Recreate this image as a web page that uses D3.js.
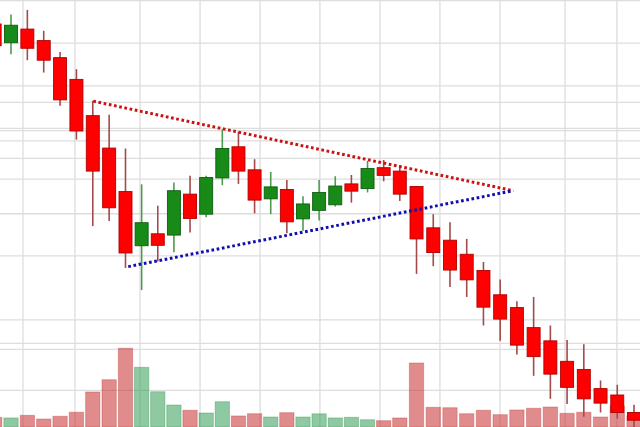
<!DOCTYPE html>
<html>
<head>
<meta charset="utf-8">
<script src="https://cdn.jsdelivr.net/npm/d3@7"></script>
<style>
  html, body { margin: 0; padding: 0; background: #fff; overflow: hidden; }
  svg { display: block; }
</style>
</head>
<body>
<svg id="chart"></svg>
<script>
//define data (price units)
var openP  = [59.45,59.01,59.33,59.06,58.66,58.15,57.30,56.54,55.52,54.25,54.53,54.50,55.46,54.99,55.84,56.57,56.03,55.35,55.57,54.88,
              55.08,55.21,55.70,55.59,56.08,56.00,55.64,54.67,54.38,54.05,53.67,53.10,52.80,52.33,52.02,51.54,51.35,50.90,50.75,50.34];
var highP  = [59.59,59.67,59.78,59.29,58.79,58.39,57.65,57.32,56.53,55.69,55.19,55.73,55.89,55.89,56.98,56.92,56.28,55.98,55.79,55.41,
              55.79,55.88,55.91,56.24,56.26,56.14,55.65,54.99,54.80,54.41,53.87,53.46,52.95,53.05,52.38,52.04,51.94,51.09,50.99,50.52];
var lowP   = [58.84,58.74,58.60,58.31,57.53,56.74,54.71,54.83,53.73,53.21,53.88,54.10,54.56,54.92,55.67,55.70,55.01,54.99,54.54,54.60,
              54.84,55.17,55.26,55.50,55.76,55.30,53.59,53.77,53.28,53.05,52.38,52.02,51.70,51.20,50.66,50.54,50.24,50.34,50.20,49.95];
var closeP = [58.94,59.42,58.88,58.60,57.67,56.94,56.00,55.14,54.08,54.79,54.26,55.54,54.89,55.85,56.53,56.00,55.32,55.63,54.81,55.23,
              55.50,55.65,55.53,56.06,55.90,55.46,54.41,54.09,53.68,53.45,52.81,52.53,51.92,51.65,51.24,50.93,50.66,50.56,50.34,50.16];
var volume = [12,11.3,14.6,10,13.4,18.4,43.8,59.1,98.4,74.6,44.1,27.5,20.9,17.5,31.6,13.8,16.6,12.5,17.9,12.5,
              16.5,11.3,12.1,9.1,7.9,11.3,80,24.6,24.1,16.6,20.9,15.4,21.3,23.4,25,17.1,18.4,12.5,26.3,13.8];
var volumeUp = [0,1,0,0,0,0,0,0,0,1,1,1,0,1,1,0,0,1,0,1,
                1,1,1,1,0,0,0,0,0,0,0,0,0,0,0,0,0,0,0,0];

//grid positions
var priceGrid = [60,59,58,57.61,57,56.95,56.71,56.3,55.81,55,54.01,52.51,51.96,51.82,50.86];
var timeGrid = [1.73,4.91,8.9,12.62,16.34,20.05,23.77,27.4,30.99,34.88,37.98];

//triangle trend lines [index, price]
var upperLine = [[6.03,57.64],[31.78,55.54]];
var lowerLine = [[8.17,53.76],[31.78,55.54]];

//define constants
const svgWidth = 640;
const svgHeight = 427;
const bodyWidth = 13;
const volWidth = 14.3;

var data = openP.map((o, i) => ({
	i: i, open: o, high: highP[i], low: lowP[i], close: closeP[i],
	vol: volume[i], volUp: volumeUp[i] === 1
}));

var svg = d3.select('#chart')
	.attr('width', svgWidth)
	.attr('height', svgHeight);

//scales
var xScale = d3.scaleLinear()
	.domain([1, 8, 25, 39])
	.range([11, 125.5, 399.8, 634]);
var yScale = d3.scaleLinear()
	.domain([50, 60])
	.range([svgHeight, 0.5]);
var vScale = d3.scaleLinear()
	.domain([0, 100])
	.range([svgHeight, svgHeight - 80]);

//grid
svg.append('g')
	.selectAll('line')
	.data(priceGrid)
	.enter()
	.append('line')
		.attr('x1', 0)
		.attr('x2', svgWidth)
		.attr('y1', d => yScale(d))
		.attr('y2', d => yScale(d))
		.attr('stroke', '#dddddd')
		.attr('stroke-width', 1.3);
svg.append('g')
	.selectAll('line')
	.data(timeGrid)
	.enter()
	.append('line')
		.attr('x1', d => xScale(d))
		.attr('x2', d => xScale(d))
		.attr('y1', 0)
		.attr('y2', svgHeight)
		.attr('stroke', '#dddddd')
		.attr('stroke-width', 1.3);

//volume bars
svg.append('g')
	.selectAll('rect')
	.data(data)
	.enter()
	.append('rect')
		.attr('x', d => xScale(d.i) - volWidth / 2)
		.attr('y', d => vScale(d.vol))
		.attr('width', volWidth)
		.attr('height', d => vScale(0) - vScale(d.vol))
		.attr('fill', d => d.volUp ? 'rgb(50,157,85)' : 'rgb(200,46,46)')
		.attr('fill-opacity', 0.55)
		.attr('stroke', d => d.volUp ? 'rgb(40,140,75)' : 'rgb(190,50,50)')
		.attr('stroke-opacity', 0.35)
		.attr('stroke-width', 1);

//candles
var candles = svg.append('g')
	.selectAll('.candle')
	.data(data)
	.enter()
	.append('g')
		.classed('candle', true);

candles.append('line')
	.attr('x1', d => xScale(d.i))
	.attr('x2', d => xScale(d.i))
	.attr('y1', d => yScale(d.high))
	.attr('y2', d => yScale(d.low))
	.attr('stroke', d => d.close >= d.open ? '#4f9a4f' : '#a34a4a')
	.attr('stroke-width', 1.6);

candles.append('rect')
	.attr('x', d => xScale(d.i) - bodyWidth / 2)
	.attr('y', d => yScale(Math.max(d.open, d.close)))
	.attr('width', bodyWidth)
	.attr('height', d => Math.max(1, Math.abs(yScale(d.open) - yScale(d.close))))
	.attr('fill', d => d.close >= d.open ? '#188a18' : '#ff0000')
	.attr('stroke', d => d.close >= d.open ? '#0e5e0e' : '#b00000')
	.attr('stroke-width', 0.9);

//triangle lines
var line = d3.line()
	.x(d => xScale(d[0]))
	.y(d => yScale(d[1]));

svg.append('path')
	.attr('d', line(upperLine))
	.attr('fill', 'none')
	.attr('stroke', '#cc1111')
	.attr('stroke-width', 3)
	.attr('stroke-dasharray', '2.7 2.6');
svg.append('path')
	.attr('d', line(lowerLine))
	.attr('fill', 'none')
	.attr('stroke', '#1010b0')
	.attr('stroke-width', 3)
	.attr('stroke-dasharray', '2.7 2.6');
</script>
</body>
</html>
